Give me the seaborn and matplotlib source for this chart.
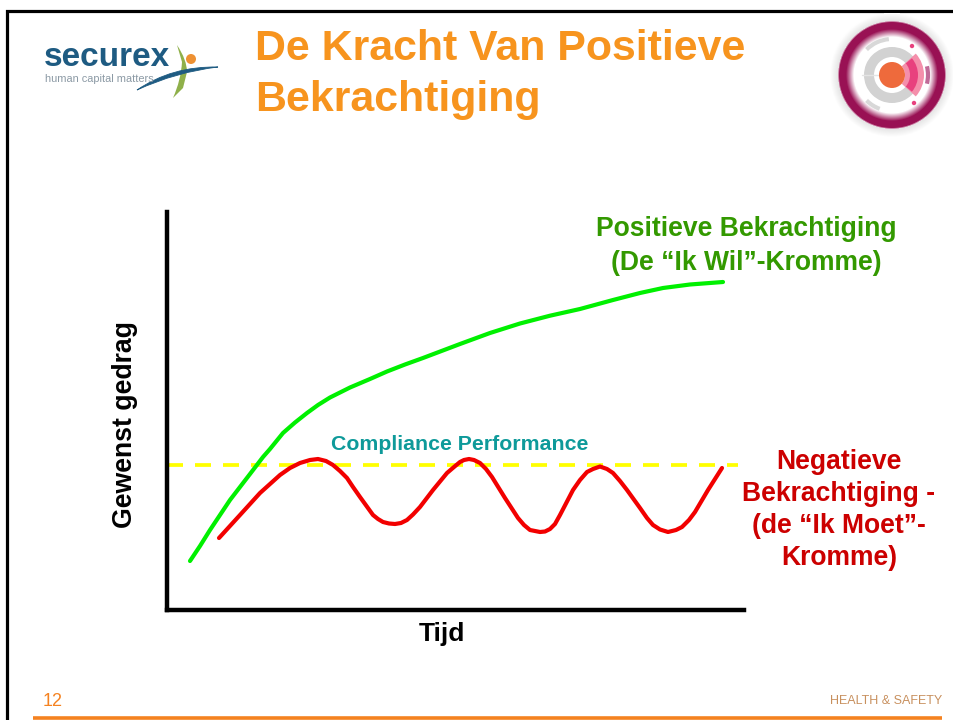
import numpy as np
import pandas as pd
import matplotlib
matplotlib.use("Agg")
import matplotlib.pyplot as plt
from matplotlib.patches import Circle, Wedge, Arc, PathPatch
from matplotlib.path import Path
import seaborn as sns

sns.set_theme(style="white")
plt.rcParams['font.family'] = ['Liberation Sans', 'DejaVu Sans']

# Chart values, measured from the axes origin
green_x = [23, 33, 43, 53, 63, 73, 83, 96, 103, 116, 128, 140, 151, 163, 183, 203, 220, 238, 256, 293, 323, 353, 383,
           413, 446, 473, 496, 523, 556]
green_y = [47, 62, 78, 93, 108, 121, 134, 151, 159, 175, 185.5, 195, 203, 210.5, 220.5, 229, 236.5, 243.5, 250, 264, 275, 284.5, 292.3,
           299, 308, 315, 320, 323.5, 326]
red_x = [52, 73, 93, 113, 123, 133, 143, 151, 159, 166, 173, 180, 186, 193, 206, 211, 216, 222, 228, 234, 240, 246, 253,
         266, 280, 287, 293, 297, 302, 307, 313, 319, 325, 338, 351, 357, 363, 368, 373, 378, 383, 388, 393, 406, 413,
         420, 426, 433, 440, 446, 453, 460, 473, 480, 486, 493, 501, 509, 515, 522, 528, 541, 555]
red_y = [70, 93, 115, 133, 140, 145, 148, 149, 147, 143, 137, 130, 121, 111, 93, 89, 86, 84.5, 84, 85, 88, 93.5, 101,
         118, 135, 141, 146, 148, 149, 148, 145, 139, 131, 110, 90, 83, 78, 77, 76, 76.5, 79, 84, 93, 118, 128,
         136, 139, 141.5, 139, 135, 127, 118, 100, 90, 83, 78.5, 76, 78, 81, 88, 96, 118, 140]

title_lines = ["De Kracht Van Positieve", "Bekrachtiging"]
pos_label = "Positieve Bekrachtiging\n(De “Ik Wil”-Kromme)"
neg_label = "Negatieve\nBekrachtiging -\n(de “Ik Moet”-\nKromme)"
compliance_label = "Compliance Performance"
compliance_level = 143
y_label = "Gewenst gedrag"
x_label = "Tijd"
page_number = "12"
footer_label = "HEALTH & SAFETY"

W, H = 954, 720
fig = plt.figure(figsize=(W / 100, H / 100), dpi=100, facecolor="white")
ax = fig.add_axes([167 / W, 1 - 609.5 / H, 578 / W, 399.5 / H])
ax.set_xlim(0, 578)
ax.set_ylim(-1.5, 398)
ax.patch.set_alpha(0)

level_df = pd.DataFrame({"x": [0, 571], "y": [compliance_level, compliance_level]})
l = sns.lineplot(data=level_df, x="x", y="y", ax=ax, color="#FFFF00", lw=2.7, errorbar=None, sort=False)
l.lines[-1].set_dashes((16 / 3.75, 12 / 3.75))
sns.lineplot(x=green_x, y=green_y, ax=ax, color="#00F000", lw=3.0, errorbar=None, sort=False, estimator=None)
sns.lineplot(x=red_x, y=red_y, ax=ax, color="#F20000", lw=3.0, errorbar=None, sort=False, estimator=None)

ax.set_xlabel("")
ax.set_ylabel("")
ax.set_xticks([])
ax.set_yticks([])
for s in ("top", "right"):
    ax.spines[s].set_visible(False)
for s in ("left", "bottom"):
    ax.spines[s].set_linewidth(3.2)
    ax.spines[s].set_color("black")
ax.spines["left"].set_bounds(-1.5, 396)
ax.spines["bottom"].set_bounds(0, 577)

# Page layer, in pixels
pg = fig.add_axes([0, 0, 1, 1], zorder=5)
pg.set_xlim(0, W)
pg.set_ylim(H, 0)
pg.axis("off")
pg.patch.set_alpha(0)

pg.plot([7.5, 7.5, W], [H, 10.5, 10.5], color="black", lw=2.3, solid_joinstyle="miter")
pg.plot([33, 942], [717.5, 717.5], color="#F58220", lw=2.6, solid_capstyle="butt")

orange = "#F7941E"
pg.text(255.5, 59.5, title_lines[0], color=orange, fontsize=30.85, fontweight="bold", va="baseline", ha="left")
pg.text(255.5, 111.5, title_lines[1], color=orange, fontsize=30.85, fontweight="bold", va="baseline", ha="left")

pg.text(746, 246, pos_label, color="#339900", fontsize=19.1, fontweight="bold", ha="center", va="center", linespacing=1.35)
pg.text(839, 510, neg_label, color="#CC0000", fontsize=19.1, fontweight="bold", ha="center", va="center", linespacing=1.31)
pg.text(459.5, 444, compliance_label, color="#0E9A9A", fontsize=15.3, fontweight="bold", ha="center", va="center")
pg.text(125, 425, y_label, color="black", fontsize=19.2, fontweight="bold", rotation=90, ha="center", va="center")
pg.text(442, 634, x_label, color="black", fontsize=19, fontweight="bold", ha="center", va="center")
pg.text(43, 701, page_number, color="#F58220", fontsize=13, ha="left", va="center")
pg.text(942, 701, footer_label, color="#C8905E", fontsize=9, ha="right", va="center")

# Securex logo
navy = "#1E5B82"
pg.text(44, 66, "securex", color=navy, fontsize=24, fontweight="bold", ha="left", va="baseline")
pg.text(45, 82, "human capital matters", color="#8C9AA5", fontsize=7.9, ha="left", va="baseline")
pg.add_patch(PathPatch(Path([(177, 45), (187, 60), (187, 72), (183, 88), (173, 98), (181, 80), (182, 62), (177, 45)],
                            [Path.MOVETO, Path.CURVE3, Path.CURVE3, Path.LINETO, Path.LINETO, Path.CURVE3, Path.CURVE3, Path.CLOSEPOLY]),
                       fc="#8FB04A", ec="none"))
pg.add_patch(Circle((191, 59), 5, color="#EE9133", lw=0))
pg.add_patch(PathPatch(Path([(137, 90), (172, 66), (218, 67), (176, 72), (137, 90)],
                            [Path.MOVETO, Path.CURVE3, Path.CURVE3, Path.CURVE3, Path.CURVE3]),
                       fc=navy, ec=navy, lw=0.6))

# Round badge
cx, cy = 892, 75
yy, xx = np.mgrid[0:130, 0:130]
r = np.hypot(xx - 64.5, yy - 64.5)
ring = np.array([0.60, 0.07, 0.33])
t = np.clip((r - 38) / 8.0, 0, 1) * np.clip((54.5 - r) / 2.0, 0, 1)
img = np.ones((130, 130, 4))
for i in range(3):
    img[..., i] = 1 - t * (1 - ring[i])
shade = (r > 54) & (r < 62)
img[shade, :3] = (0.90 + 0.10 * (r[shade] - 54)[:, None] / 8)
img[r >= 62, 3] = 0
pg.imshow(img, extent=(cx - 65, cx + 65, cy + 65, cy - 65), interpolation="bilinear", zorder=2, aspect="auto")
pg.set_xlim(0, W)
pg.set_ylim(H, 0)
pg.add_patch(Wedge((cx, cy), 28, 0, 360, width=10, fc="#D2D2D2", lw=0, zorder=3))
pg.plot([cx - 30, cx], [cy, cy], color="#E4E4E4", lw=1, zorder=3)
pg.add_patch(Wedge((cx, cy), 32, -42, 42, width=19, fc="#F48FAB", lw=0, zorder=3))
pg.add_patch(Wedge((cx, cy), 26, -40, 40, width=8, fc="#E8417E", lw=0, zorder=4))
pg.add_patch(Circle((cx, cy), 13, fc="#EE6A3C", lw=0, zorder=5))
for a1, a2 in ((110, 135), (225, 265)):
    pg.add_patch(Arc((cx, cy), 72, 72, theta1=a1, theta2=a2, ec="#D8D8D8", lw=3, zorder=3))
pg.add_patch(Arc((cx, cy), 72, 72, theta1=-14, theta2=14, ec="#C06A98", lw=3, zorder=5))
pg.add_patch(Circle((cx + 20, cy - 29), 2.2, fc="#E8417E", lw=0, zorder=5))
pg.add_patch(Circle((cx + 22, cy + 28), 2.2, fc="#E8417E", lw=0, zorder=5))

fig.savefig("out.png", dpi=100)
